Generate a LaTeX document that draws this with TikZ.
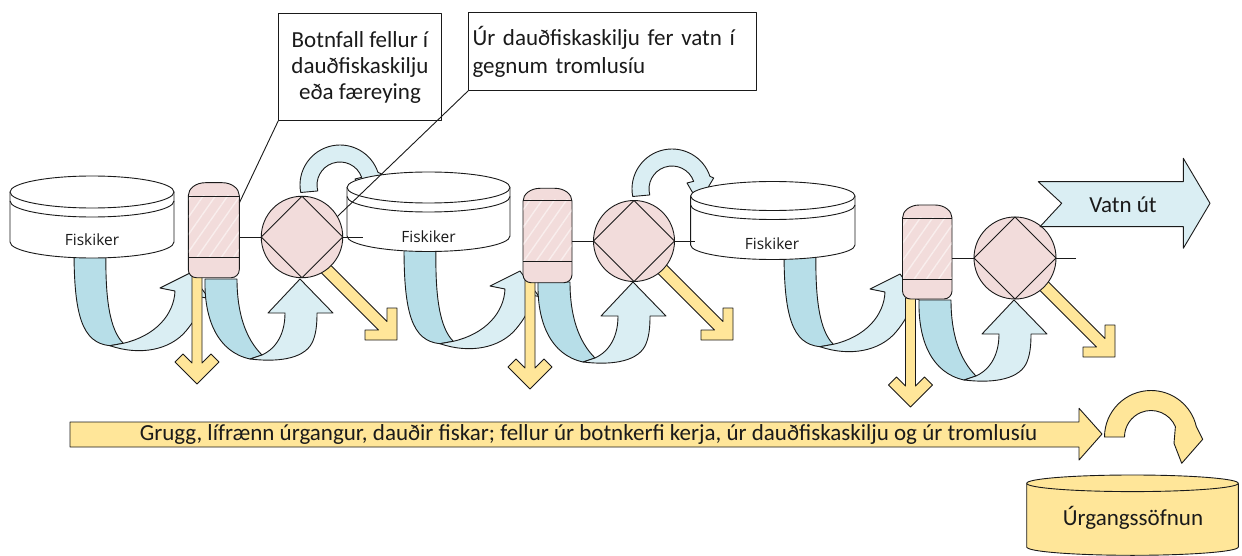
\documentclass[tikz,border=0pt]{standalone}
\usepackage{fontspec}
\setmainfont{Carlito}
\newfontfamily\osans{Open Sans}
\usetikzlibrary{calc,patterns.meta}
\definecolor{bL}{HTML}{DAEEF3}
\definecolor{bD}{HTML}{B7DEE8}
\definecolor{yl}{HTML}{FFE699}
\definecolor{pk}{HTML}{F2DCDB}
\definecolor{hatchc}{HTML}{F9EEED}
\definecolor{ink}{HTML}{1A1A1A}
\tikzset{
  ln/.style={draw=ink, line width=0.9pt, line join=round},
  txt/.style={font=\fontsize{23}{26}\selectfont, text=ink, inner sep=0pt},
  fisk/.style={font=\osans\fontsize{15.5}{18}\selectfont, text=ink, inner sep=0pt},
  drum/.style={ln, circle, fill=pk, minimum size=#1, inner sep=0pt, outer sep=0pt},
}
% tank: cx, cy(top ellipse centre), rx, ry, side height
\newcommand{\tankdraw}[5]{%
  \draw[ln,fill=white] (#1-#3,#2) -- (#1-#3,#2+#5) arc[start angle=180,end angle=0,x radius=#3,y radius=#4] -- (#1+#3,#2);
  \draw[ln,fill=white] (#1,#2) ellipse[x radius=#3,y radius=#4];
  \draw[ln] (#1-#3,#2+9) arc[start angle=180,end angle=0,x radius=#3,y radius=#4];
}
% separator: xl, xr, ytop, ydome, ylow, ybottom
\newcommand{\sepdraw}[6]{%
  \draw[ln,fill=pk] (#1+17,#3) -- (#2-17,#3) arc[start angle=-90,end angle=0,x radius=17,y radius=13]
    -- (#2,#6-8) arc[start angle=0,end angle=90,radius=8]
    -- (#1+8,#6) arc[start angle=90,end angle=180,radius=8]
    -- (#1,#3+13) arc[start angle=180,end angle=270,x radius=17,y radius=13] -- cycle;
  \fill[pattern={Lines[angle=55,distance=10pt,line width=1.4pt]},pattern color=hatchc] (#1+0.6,#4) rectangle (#2-0.6,#5);
  \draw[ln] (#1,#4) -- (#2,#4) (#1,#5) -- (#2,#5);
}
\newcommand{\Aarrow}{%
  \draw[ln,fill=bD] (74,250) .. controls (74,315) and (82,343) .. (110,345.7) -- (123.3,343.3)
     .. controls (110,330) and (105,300) .. (106,250) -- cycle;
  \draw[ln,fill=bL] (110,345.7) .. controls (140,356) and (170,350) .. (186,331)
     .. controls (195,320) and (200,312) .. (201,297) -- (209,298.5) -- (190,273) -- (160,288) -- (175,291)
     .. controls (174,315) and (155,336) .. (123.3,343.3) -- cycle;
}
\newcommand{\Barrow}{%
  \draw[ln,fill=bD] (205,279) .. controls (204,320) and (218,352) .. (250,359) -- (262,355)
     .. controls (245,338) and (237,312) .. (237,279) -- cycle;
  \draw[ln,fill=bL] (250,359) .. controls (275,362) and (303,360) .. (312,343)
     .. controls (316,335) and (317,325) .. (317,313) -- (333,313) -- (300,279) -- (268,313) -- (285,313)
     .. controls (285,333) and (277,348) .. (262,355) -- cycle;
}
\newcommand{\Carrow}{%
  \draw[ln,fill=bL] ($(672,189)+(-190.8:40)$) arc[start angle=-190.8,end angle=-18.5,radius=40]
     -- (713.7,178) -- (698.7,203) -- (687,183) -- ($(672,189)+(-19.5:23)$)
     arc[start angle=-19.5,end angle=-195,radius=23] -- cycle;
}
\newcommand{\Yarrow}{%
  \draw[ln,fill=yl] (192,275) -- (202,275) -- (202,363) -- (211,354) -- (219,362) -- (197,384)
     -- (175,362) -- (183,354) -- (192,363) -- cycle;
}
\newcommand{\Darrow}[2]{%
  \draw[ln,fill=yl] (#1-90.76,#2-99.24) -- (#1-10,#2-18.5) -- (#1-10,#2-32) -- (#1,#2-32) -- (#1,#2)
     -- (#1-32,#2) -- (#1-32,#2-10) -- (#1-18.5,#2-10) -- (#1-99.24,#2-90.76) -- cycle;
}
\begin{document}
\begin{tikzpicture}[x=1pt,y=-1pt]
\useasboundingbox (0,0) rectangle (1242,556);
\fill[white] (0,0) rectangle (1242,556);

% curved arrows drum -> next tank
\begin{scope}[shift={(-332,-4)}]\Carrow\end{scope}
\Carrow

% curved arrows tank -> separator
\Aarrow
\begin{scope}[shift={(330,-2)}]\Aarrow\end{scope}
\begin{scope}[shift={(710,1)}]\Aarrow\end{scope}

% curved arrows separator -> drum
\Barrow
\begin{scope}[shift={(333,3)}]\Barrow\end{scope}
\begin{scope}[shift={(714,21)}]\Barrow\end{scope}

% yellow down arrows
\Yarrow
\begin{scope}[shift={(333,5)}]\Yarrow\end{scope}
\begin{scope}[shift={(713.5,23)}]\Yarrow\end{scope}

% yellow diagonal arrows
\Darrow{397}{340}
\Darrow{733}{340}
\Darrow{1115}{357}

% tanks
\tankdraw{92}{192}{82}{16}{50}
\node[fisk] (f1) at (92,240) {Fiskiker};
\tankdraw{428.5}{187.5}{81.5}{15.5}{48.5}
\node[fisk] (f2) at (428.5,237) {Fiskiker};
\tankdraw{772.8}{196}{82.2}{14.5}{49}
\node[fisk] (f3) at (772,244) {Fiskiker};

% separators
\sepdraw{188.3}{239.3}{182.7}{196}{257.7}{277.7}
\sepdraw{523}{572}{188.3}{200}{261.7}{282.7}
\sepdraw{902.5}{952}{205}{218}{279}{299}
\coordinate (s1) at (239.3,237);
\coordinate (s2) at (572,241);
\coordinate (s3) at (952,258);
\coordinate (s1c) at (239.3,203);

% drums
\node[drum=81.5] (d1) at (302,237) {};
\node[drum=81] (d2) at (634,241) {};
\node[drum=82] (d3) at (1015,258) {};
\foreach \d in {d1,d2,d3}{
  \draw[ln] (\d.north) -- (\d.east) -- (\d.south) -- (\d.west) -- cycle;
}
\draw[ln] (s1) -- (d1.west) (d1.east) -- ++(20,0);
\draw[ln] (s2) -- (d2.west) (d2.east) -- ++(20,0);
\draw[ln] (s3) -- (d3.west) (d3.east) -- ++(20,0);

% water out
\draw[ln,fill=bL] (1038.3,181.7) -- (1183.3,181.7) -- (1183.3,158.3) -- (1210,203.3) -- (1183.3,248.3)
   -- (1183.3,226.7) -- (1040,226.7) -- (1061.7,203.3) -- cycle;
\node[txt] (vo) at (1123,205) {Vatn út};

% waste line
\draw[ln,fill=yl] (70,422) -- (1079,422) -- (1079,408.3) -- (1102,434) -- (1079,460) -- (1079,447) -- (70,447) -- cycle;
\node[txt] (wl) at (588.5,434.5) {Grugg, lífrænn úrgangur, dauðir fiskar; fellur úr botnkerfi kerja, úr dauðfiskaskilju og úr tromlusíu};

% waste collection
\draw[ln,fill=yl] (1026.7,483.3) -- (1026.7,547) arc[start angle=180,end angle=0,x radius=105.8,y radius=8.3] -- (1238.3,483.3);
\draw[ln,fill=yl] (1132.5,483.3) ellipse[x radius=105.8,y radius=8.3];
\node[txt] (wc) at (1133,518.3) {Úrgangssöfnun};
\draw[ln,fill=yl] ($(1151,437)+(-180:46.5)$) arc[start angle=-180,end angle=-13,radius=46.5]
   -- (1202.7,439.3) -- (1181.7,463.3) -- (1174,443.3) -- ($(1151,437)+(-23:26.5)$)
   arc[start angle=-23,end angle=-180,radius=26.5] -- cycle;

% callouts
\node[ln, fill=white, minimum width=163.4, minimum height=107.4, inner sep=0pt, outer sep=0pt,
      align=center, font=\fontsize{23}{26}\selectfont, text=ink] (cb1) at (360,67)
      {Botnfall fellur í\\dauðfiskaskilju\\eða færeying};
\node[ln, fill=white, minimum width=288.4, minimum height=78, inner sep=0pt, outer sep=0pt,
      align=left, text width=280, font=\fontsize{23}{28}\selectfont, text=ink] (cb2) at (612.5,51.7)
      {Úr dauðfiskaskilju fer vatn í\\gegnum tromlusíu};
\draw[ln] (cb1.south west) -- (s1c);
\draw[ln] (cb2.south west) -- (d1.30);
\end{tikzpicture}
\end{document}
